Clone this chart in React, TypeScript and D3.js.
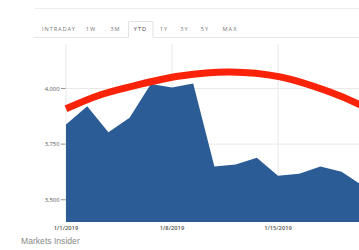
import React from "react";
import * as d3 from "d3";

const dates = ["1/1/2019","1/2/2019","1/3/2019","1/4/2019","1/7/2019","1/8/2019","1/9/2019","1/10/2019","1/11/2019","1/14/2019","1/15/2019","1/16/2019","1/17/2019","1/18/2019","1/21/2019"];
const prices = [3838, 3920, 3803, 3869, 4020, 4005, 4022, 3649, 3658, 3689, 3608, 3617, 3649, 3626, 3563];
const yTicks = [3500, 3750, 4000];
const xTickLabels = ["1/1/2019", "1/8/2019", "1/15/2019"];
const tabs = ["INTRADAY", "1W", "3M", "YTD", "1Y", "3Y", "5Y", "MAX"];
const tabCenters = [59, 91, 115.5, 140.5, 164, 184.5, 205, 230];
const activeTab = "YTD";
// annotation arc in (trading-day index, value)
const arcIdx = [0, 1.6, 3.16, 5.38, 7.74, 10.1, 12.45, 13.8, 14.6];
const arcVal = [3909, 3971, 4011, 4056, 4074, 4052, 3984, 3930, 3890];

export default function App() {
  const W = 359, H = 250;
  const left = 66, step = 21.2;
  const top = 44, bottom = 222;
  const x = d3.scaleLinear().domain([0, dates.length - 1]).range([left, left + step * (dates.length - 1)]);
  const y = d3.scaleLinear().domain([3400, 4200]).range([bottom, top]);
  const right = W + 4;

  const area = d3.area<number>()
    .x((_, i) => x(i))
    .y0(y(3400))
    .y1((d) => y(d))(prices) || "";

  const arc = d3.line<number>()
    .x((d) => x(d))
    .y((_, i) => y(arcVal[i]))
    .curve(d3.curveCatmullRom)(arcIdx) || "";

  const grid = "#e9e9e9";
  const tabFont = "'Open Sans', 'DejaVu Sans', sans-serif";

  return (
    <svg width={W} height={H} style={{ position: "absolute", left: 0, top: 0, background: "#fff" }}>
      {/* tab bar */}
      <line x1={35} x2={W} y1={8.5} y2={8.5} stroke="#ececec" />
      <line x1={33} x2={128.5} y1={37.5} y2={37.5} stroke="#e6e6e6" />
      <line x1={153} x2={W} y1={37.5} y2={37.5} stroke="#e6e6e6" />
      <path d={`M128.5,37.5V21.5H153V37.5`} fill="none" stroke="#e2e2e2" />
      {tabs.map((t, i) => (
        <text key={t} x={tabCenters[i]} y={31} textAnchor="middle" fontSize={5.6}
          letterSpacing={t === "INTRADAY" ? 0.9 : 1} fill={t === activeTab ? "#444" : "#777"}
          fontFamily={tabFont}>{t}</text>
      ))}

      {/* grid */}
      {yTicks.map((v) => (
        <g key={v}>
          <line x1={left} x2={right} y1={y(v)} y2={y(v)} stroke={grid} />
          <line x1={61} x2={66} y1={y(v)} y2={y(v)} stroke="#777" strokeWidth={0.8} />
          <text x={59.5} y={y(v) + 2} textAnchor="end" fontSize={5.8} fill="#555" fontFamily={tabFont}>
            {d3.format(",")(v)}
          </text>
        </g>
      ))}
      {xTickLabels.map((lab) => {
        const i = dates.indexOf(lab);
        return (
          <g key={lab}>
            <line x1={x(i)} x2={x(i)} y1={top} y2={bottom} stroke={grid} />
            <text x={x(i)} y={230} textAnchor="middle" fontSize={5.8} fontWeight={600} fill="#555" fontFamily={tabFont}>{lab}</text>
          </g>
        );
      })}

      {/* area */}
      <path d={area} fill="#2b5c96" />

      {/* annotation arc */}
      <path d={arc} fill="none" stroke="#fa2208" strokeWidth={7} />

      <text x={21} y={244} fontSize={8.6} fill="#8a8a8a" fontFamily="'Liberation Sans', Arial, sans-serif">Markets Insider</text>
    </svg>
  );
}
